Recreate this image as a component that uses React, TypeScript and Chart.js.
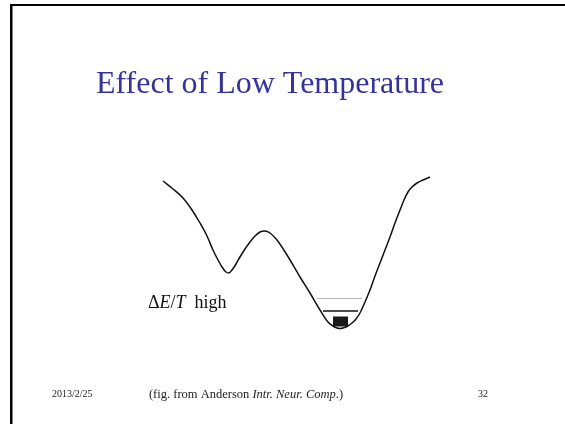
import React, { useEffect, useRef } from "react";
import { Chart, registerables } from "chart.js";

Chart.register(...registerables);

// Energy landscape (position, energy) in figure units
const curvePos = [163, 173, 183, 192, 200, 207, 213, 218, 222, 226, 229, 232, 236, 240, 245, 250, 255, 260, 265, 270, 277, 287, 300, 310, 320, 328, 333, 337, 340, 343, 347, 352, 356, 360, 365, 370, 375, 380, 385, 390, 395, 400, 404, 408, 412, 417, 423, 430];
const curveEnergy = [181, 189, 198, 210, 223, 236, 250, 260, 267, 272, 273, 270, 264, 257, 249, 242, 236, 232, 231, 233, 240, 255, 277, 293, 310, 322, 326, 328, 328.5, 328, 326.5, 323, 319, 313, 302, 290, 276, 263, 250, 237, 223, 210, 200, 192, 187, 183, 180, 177];

const grayLevelPos = [317, 362];
const grayLevelEnergy = [298.5, 298.5];
const blackLevelPos = [323, 358];
const blackLevelEnergy = [311, 311];
const ballPos = [333, 348];
const ballTop = [316.5, 316.5];
const ballBottom = [326.5, 326.5];

const titleText = "Effect of Low Temperature";
const labelText = ["\u0394", "E", "/", "T", "  high"];
const footerDate = "2013/2/25";
const footerPage = "32";

const pts = (xs: number[], ys: number[]) => xs.map((x, i) => ({ x, y: ys[i] }));
const SERIF = "'Liberation Serif', 'Times New Roman', serif";

const slidePlugin = {
  id: "slide",
  afterDraw(chart: any) {
    const ctx = chart.ctx as CanvasRenderingContext2D;
    ctx.save();
    // slide border
    ctx.fillStyle = "#000";
    ctx.fillRect(10, 4, 565, 2);
    ctx.fillRect(10, 4, 2.5, 420);
    // title
    ctx.fillStyle = "#333399";
    ctx.font = "32px " + SERIF;
    ctx.textAlign = "center";
    ctx.textBaseline = "alphabetic";
    ctx.fillText(titleText, 270, 93);
    // label
    ctx.fillStyle = "#111";
    ctx.textAlign = "left";
    let x = 148;
    labelText.forEach((s, i) => {
      const italic = i === 1 || i === 3;
      ctx.font = (italic ? "italic " : "") + "18px " + SERIF;
      ctx.fillText(s, x, 308);
      x += ctx.measureText(s).width;
    });
    // footer
    ctx.fillStyle = "#222";
    ctx.font = "10px " + SERIF;
    ctx.fillText(footerDate, 52, 397);
    ctx.textAlign = "right";
    ctx.fillText(footerPage, 488, 397);
    const fs = "12.5px ";
    const parts: [string, boolean][] = [["(fig. from Anderson ", false], ["Intr. Neur. Comp", true], [".)", false]];
    let total = 0;
    parts.forEach(([s, it]) => {
      ctx.font = (it ? "italic " : "") + fs + SERIF;
      total += ctx.measureText(s).width;
    });
    ctx.textAlign = "left";
    let fx = 246 - total / 2;
    parts.forEach(([s, it]) => {
      ctx.font = (it ? "italic " : "") + fs + SERIF;
      ctx.fillText(s, fx, 397.5);
      fx += ctx.measureText(s).width;
    });
    ctx.restore();
  },
};

export default function App() {
  const ref = useRef<HTMLCanvasElement | null>(null);
  useEffect(() => {
    document.body.style.margin = "0";
    if (!ref.current) return;
    const chart = new Chart(ref.current, {
      type: "scatter",
      data: {
        datasets: [
          {
            data: pts(curvePos, curveEnergy),
            showLine: true,
            borderColor: "#111",
            borderWidth: 1.5,
            pointRadius: 0,
            cubicInterpolationMode: "monotone",
          },
          {
            data: pts(grayLevelPos, grayLevelEnergy),
            showLine: true,
            borderColor: "#b4b4b4",
            borderWidth: 1,
            pointRadius: 0,
          },
          {
            data: pts(blackLevelPos, blackLevelEnergy),
            showLine: true,
            borderColor: "#111",
            borderWidth: 1.6,
            pointRadius: 0,
          },
          {
            data: pts(ballPos, ballTop),
            showLine: true,
            borderWidth: 0,
            borderColor: "rgba(0,0,0,0)",
            pointRadius: 0,
          },
          {
            data: pts(ballPos, ballBottom),
            showLine: true,
            borderWidth: 0,
            borderColor: "rgba(0,0,0,0)",
            backgroundColor: "#1a1a1a",
            fill: "-1",
            pointRadius: 0,
          },
        ] as any,
      },
      options: {
        animation: false,
        responsive: false,
        maintainAspectRatio: false,
        layout: { padding: 0 },
        plugins: { legend: { display: false }, tooltip: { enabled: false }, title: { display: false } },
        scales: {
          x: { type: "linear", min: 0, max: 565, display: false },
          y: { type: "linear", min: 0, max: 424, reverse: true, display: false },
        },
      },
      plugins: [slidePlugin],
    });
    return () => chart.destroy();
  }, []);
  return (
    <div style={{ position: "absolute", left: 0, top: 0, width: 565, height: 424, background: "#fff" }}>
      <canvas ref={ref} width={565} height={424} style={{ display: "block" }} />
    </div>
  );
}
